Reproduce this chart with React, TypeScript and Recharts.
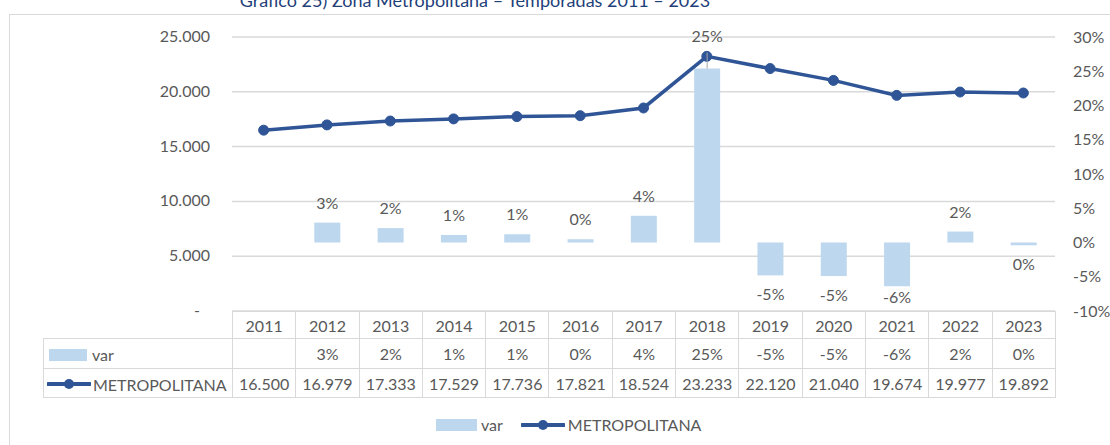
import React from "react";
import {
  ComposedChart,
  Bar,
  Line,
  XAxis,
  YAxis,
  CartesianGrid,
  LabelList,
} from "recharts";

const years = ["2011", "2012", "2013", "2014", "2015", "2016", "2017", "2018", "2019", "2020", "2021", "2022", "2023"];
const metropolitana = [16500, 16979, 17333, 17529, 17736, 17821, 18524, 23233, 22120, 21040, 19674, 19977, 19892];
const variacion = [null, 0.029, 0.021, 0.011, 0.012, 0.0048, 0.039, 0.254, -0.048, -0.049, -0.064, 0.016, -0.004];
const leftTicks = [0, 5000, 10000, 15000, 20000, 25000];
const rightTicks = [-0.1, -0.05, 0, 0.05, 0.1, 0.15, 0.2, 0.25, 0.3];

const data = years.map((year, i) => ({
  year,
  metro: metropolitana[i],
  var: variacion[i],
}));

const FONT = "Lato, 'Open Sans', sans-serif";
const TEXT = "#595959";
const GRID = "#D9D9D9";
const BAR = "#BDD7EE";
const LINE = "#2F5597";

const PLOT_TOP = 37;
const PLOT_BOTTOM = 311;
const PLOT_LEFT = 232;
const PLOT_RIGHT = 1055;
const COL_W = (PLOT_RIGHT - PLOT_LEFT) / years.length;

const fmtThousands = (v: number) =>
  v.toString().replace(/\B(?=(\d{3})+(?!\d))/g, ".");
const fmtPct = (v: number | null) =>
  v === null ? "" : `${Math.round(v * 100) || 0}%`;

function LeftTick(props: any) {
  const { x, y, payload } = props;
  const v = payload.value;
  return (
    <text
      x={v === 0 ? x - 10 : x}
      y={y}
      dy={5}
      textAnchor="end"
      fill={TEXT}
      fontSize={16}
      fontFamily={FONT}
    >
      {v === 0 ? "-" : fmtThousands(v)}
    </text>
  );
}

function VarLabel(props: any) {
  const { x, y, width, height, value } = props;
  if (value === null || value === undefined) return null;
  const top = Math.min(y, y + height);
  const bottom = Math.max(y, y + height);
  const cx = x + width / 2;
  let cy = value >= 0 ? top - 19 : Math.min(bottom + 20, PLOT_BOTTOM - 13);
  const big = value > 0.2;
  if (big) cy = top - 32;
  return (
    <g>
      {big && (
        <line x1={cx} x2={cx} y1={top - 16} y2={top} stroke="#A6A6A6" strokeWidth={1} />
      )}
      <text
        x={cx}
        y={cy}
        dy={5}
        textAnchor="middle"
        fill={TEXT}
        fontSize={16}
        fontFamily={FONT}
      >
        {fmtPct(value)}
      </text>
    </g>
  );
}

const cell: React.CSSProperties = {
  border: `1px solid ${GRID}`,
  textAlign: "center",
  padding: 0,
  whiteSpace: "nowrap",
};

function LineSymbol({ w = 44 }: { w?: number }) {
  return (
    <svg width={w} height={12} style={{ verticalAlign: "middle" }}>
      <line x1={1} x2={w - 1} y1={6} y2={6} stroke={LINE} strokeWidth={4} strokeLinecap="round" />
      <circle cx={w / 2} cy={6} r={5} fill={LINE} />
    </svg>
  );
}

export default function App() {
  return (
    <div
      style={{
        position: "absolute",
        left: 0,
        top: 0,
        width: 1110,
        height: 445,
        overflow: "hidden",
        background: "#fff",
        fontFamily: FONT,
        color: TEXT,
      }}
    >
      {/* title sits partly above the crop, as in the source */}
      <div
        style={{
          position: "absolute",
          left: 0,
          top: -9,
          width: 950,
          textAlign: "center",
          fontSize: 18,
          lineHeight: "18px",
          color: "#1F3F7A",
        }}
      >
        Gráfico 25) Zona Metropolitana – Temporadas 2011 – 2023
      </div>
      <div
        style={{
          position: "absolute",
          left: 9,
          top: 14,
          width: 1200,
          height: 500,
          border: `1px solid ${GRID}`,
        }}
      />
      <div style={{ position: "absolute", left: 0, top: 0 }}>
        <ComposedChart
          width={1110}
          height={445}
          data={data}
          margin={{ top: PLOT_TOP, right: 0, bottom: 445 - PLOT_BOTTOM, left: 0 }}
        >
          <CartesianGrid yAxisId="left" vertical={false} stroke={GRID} strokeWidth={1.5} />
          <XAxis dataKey="year" hide />
          <YAxis
            yAxisId="left"
            orientation="left"
            width={PLOT_LEFT}
            domain={[0, 25000]}
            ticks={leftTicks}
            axisLine={false}
            tickLine={false}
            tickSize={0}
            tickMargin={22}
            tick={<LeftTick />}
            interval={0}
          />
          <YAxis
            yAxisId="right"
            orientation="right"
            width={1110 - PLOT_RIGHT}
            domain={[-0.1, 0.3]}
            ticks={rightTicks}
            axisLine={false}
            tickLine={false}
            tickSize={0}
            tickMargin={18}
            interval={0}
            tickFormatter={(v: number) => fmtPct(v)}
            tick={{ fill: TEXT, fontSize: 16, fontFamily: FONT, textAnchor: "start" }}
          />
          <Bar
            yAxisId="right"
            dataKey="var"
            fill={BAR}
            barSize={26}
            isAnimationActive={false}
          >
            <LabelList dataKey="var" content={<VarLabel />} />
          </Bar>
          <Line
            yAxisId="left"
            type="linear"
            dataKey="metro"
            stroke={LINE}
            strokeWidth={3.5}
            dot={{ r: 5, fill: LINE, stroke: LINE, strokeWidth: 1 }}
            activeDot={false}
            isAnimationActive={false}
          />
        </ComposedChart>
      </div>

      <table
        style={{
          position: "absolute",
          left: 43,
          top: PLOT_BOTTOM,
          borderCollapse: "collapse",
          tableLayout: "fixed",
          width: PLOT_RIGHT - 43,
          fontSize: 16,
          color: TEXT,
          fontFamily: FONT,
        }}
      >
        <colgroup>
          <col style={{ width: PLOT_LEFT - 43 }} />
          {years.map((y) => (
            <col key={y} style={{ width: COL_W }} />
          ))}
        </colgroup>
        <tbody>
          <tr style={{ height: 27 }}>
            <td style={{ border: "none" }} />
            {years.map((y) => (
              <td key={y} style={cell}>
                {y}
              </td>
            ))}
          </tr>
          <tr style={{ height: 30 }}>
            <td style={{ ...cell, textAlign: "left", paddingLeft: 5 }}>
              <span
                style={{
                  display: "inline-block",
                  width: 38,
                  height: 12,
                  background: BAR,
                  verticalAlign: "middle",
                  marginRight: 5,
                }}
              />
              <span style={{ verticalAlign: "middle" }}>var</span>
            </td>
            {variacion.map((v, i) => (
              <td key={i} style={cell}>
                {fmtPct(v)}
              </td>
            ))}
          </tr>
          <tr style={{ height: 29 }}>
            <td style={{ ...cell, textAlign: "left", paddingLeft: 3 }}>
              <LineSymbol />
              <span style={{ verticalAlign: "middle", marginLeft: 2 }}>METROPOLITANA</span>
            </td>
            {metropolitana.map((v, i) => (
              <td key={i} style={cell}>
                {fmtThousands(v)}
              </td>
            ))}
          </tr>
        </tbody>
      </table>

      <div
        style={{
          position: "absolute",
          left: 436,
          top: 414,
          fontSize: 16,
          lineHeight: "22px",
          display: "flex",
          alignItems: "center",
          color: TEXT,
        }}
      >
        <span style={{ display: "inline-block", width: 41, height: 12, background: BAR, marginRight: 4 }} />
        <span style={{ marginRight: 18 }}>var</span>
        <LineSymbol w={44} />
        <span style={{ marginLeft: 3 }}>METROPOLITANA</span>
      </div>
    </div>
  );
}
